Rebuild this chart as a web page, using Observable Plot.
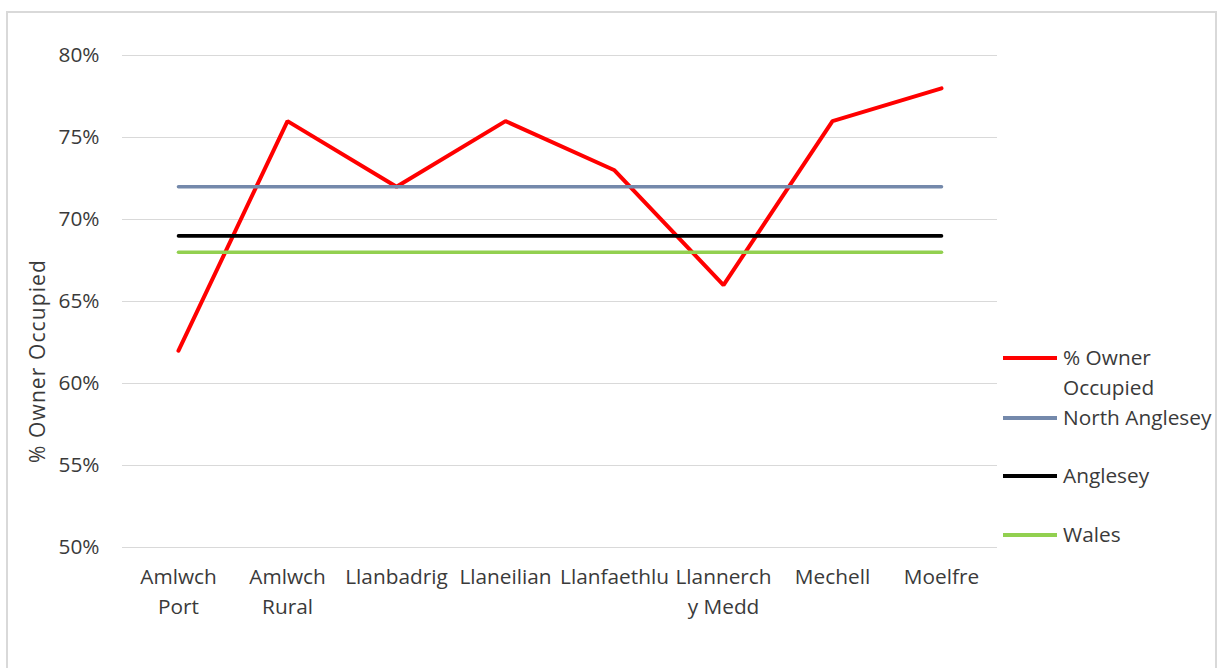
<!DOCTYPE html>
<html>
<head>
<meta charset="utf-8">
<script src="https://cdn.jsdelivr.net/npm/d3@7"></script>
<script src="https://cdn.jsdelivr.net/npm/@observablehq/plot@0.6"></script>
<style>
  html, body { margin: 0; padding: 0; background: #fff; }
  body { width: 1224px; height: 668px; overflow: hidden; position: relative; font-family: "Open Sans", sans-serif; }
  #frame { position: absolute; left: 6px; top: 11px; width: 1211px; height: 700px; border: 2px solid #d9d9d9; box-sizing: border-box; }
  #chart { position: absolute; left: 0; top: 0; }
  #ylabel { position: absolute; left: 37px; top: 361px; transform: translate(-50%, -50%) rotate(-90deg); white-space: nowrap; font-size: 21px; letter-spacing: 1.1px; color: #3a3a3a; }
  #legend { position: absolute; left: 1003px; top: 0; font-size: 20.8px; color: #3a3a3a; }
  .item { position: absolute; left: 0; display: flex; align-items: flex-start; white-space: nowrap; }
  .swatch { width: 54px; height: 4px; margin-right: 6px; margin-top: 14px; flex: none; }
  .label { line-height: 30px; }
</style>
</head>
<body>
<div id="frame"></div>
<div id="chart"></div>
<div id="ylabel">% Owner Occupied</div>
<div id="legend"></div>
<script>
// Wards of North Anglesey and their share of owner-occupied homes (%)
const wards = ["Amlwch Port", "Amlwch Rural", "Llanbadrig", "Llaneilian", "Llanfaethlu", "Llannerchy Medd", "Mechell", "Moelfre"];
const wardLabels = ["Amlwch\nPort", "Amlwch\nRural", "Llanbadrig", "Llaneilian", "Llanfaethlu", "Llannerch\ny Medd", "Mechell", "Moelfre"];
const ownerOccupied = [62, 76, 72, 76, 73, 66, 76, 78];

// Comparison averages
const benchmarkNames = ["North Anglesey", "Anglesey", "Wales"];
const benchmarkValues = [72, 69, 68];

const yTicks = [50, 55, 60, 65, 70, 75, 80];

const colors = {
  "% Owner Occupied": "#ff0000",
  "North Anglesey": "#7489ab",
  "Anglesey": "#000000",
  "Wales": "#92d050"
};

const wardRows = wards.map((w, i) => ({ward: w, value: ownerOccupied[i]}));
const benchmarkRows = benchmarkNames.flatMap((name, j) =>
  wards.map(w => ({series: name, ward: w, value: benchmarkValues[j]})));
const labelOf = new Map(wards.map((w, i) => [w, wardLabels[i]]));

const chart = Plot.plot({
  width: 1224,
  height: 668,
  marginLeft: 122,
  marginRight: 227,
  marginTop: 55,
  marginBottom: 121,
  style: { fontFamily: "Open Sans, sans-serif", fontSize: "20.8px", color: "#3a3a3a", background: "transparent" },
  x: { type: "point", domain: wards, padding: 0.5, label: null },
  y: { domain: [50, 80], label: null },
  marks: [
    Plot.gridY(yTicks, { stroke: "#d9d9d9", strokeOpacity: 1, strokeWidth: 1.2 }),
    Plot.axisY(yTicks, { tickSize: 0, tickPadding: 23, tickFormat: d => d + "%", fontSize: 20.8, fill: "#3a3a3a" }),
    Plot.axisX({ tickSize: 0, tickPadding: 15, tickFormat: d => labelOf.get(d), fontSize: 20.8, fill: "#3a3a3a", lineHeight: 1.45 }),
    Plot.lineY(wardRows, { x: "ward", y: "value", stroke: colors["% Owner Occupied"], strokeWidth: 4, strokeLinejoin: "miter" }),
    ...benchmarkNames.map(name =>
      Plot.lineY(benchmarkRows.filter(d => d.series === name),
        { x: "ward", y: "value", stroke: colors[name], strokeWidth: 3.6 }))
  ]
});
document.getElementById("chart").appendChild(chart);

// Legend entries, stacked down the right side
const legendItems = [
  { name: "% Owner\nOccupied", key: "% Owner Occupied", top: 342 },
  { name: "North Anglesey", key: "North Anglesey", top: 402 },
  { name: "Anglesey", key: "Anglesey", top: 460 },
  { name: "Wales", key: "Wales", top: 519 }
];
const legend = document.getElementById("legend");
for (const it of legendItems) {
  const row = document.createElement("div");
  row.className = "item";
  row.style.top = it.top + "px";
  const sw = document.createElement("div");
  sw.className = "swatch";
  sw.style.background = colors[it.key];
  const lb = document.createElement("div");
  lb.className = "label";
  lb.innerHTML = it.name.split("\n").join("<br>");
  row.appendChild(sw);
  row.appendChild(lb);
  legend.appendChild(row);
}
</script>
</body>
</html>
